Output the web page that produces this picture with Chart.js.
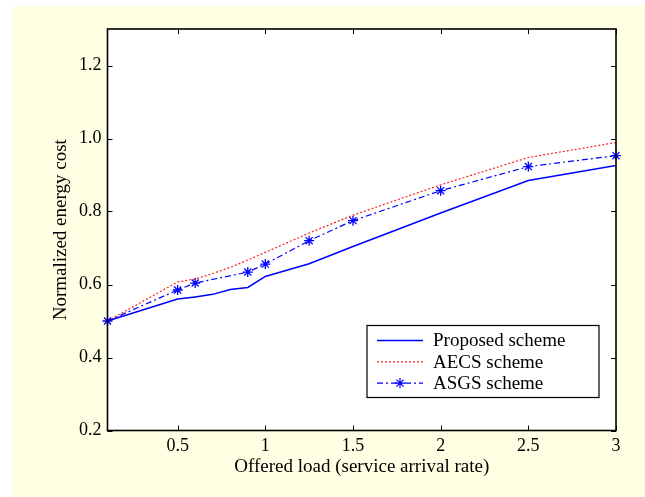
<!DOCTYPE html>
<html>
<head>
<meta charset="utf-8">
<script src="https://cdn.jsdelivr.net/npm/chart.js@4.4.1/dist/chart.umd.min.js"></script>
<style>
  html, body { margin:0; padding:0; background:#fff; }
  #bg { position:absolute; left:12px; top:6px; width:633px; height:491px; background:#ffffe3; }
  #c { position:absolute; left:0; top:0; }
</style>
</head>
<body>
<div id="bg"></div>
<canvas id="c" width="645" height="497"></canvas>
<script>
/* data */
const LOAD      = [0.1, 0.5, 0.6, 0.7, 0.8, 0.9, 1.0, 1.25, 1.5, 2.0, 2.5, 3.0];
const PROPOSED  = [0.5, 0.560, 0.566, 0.573, 0.586, 0.592, 0.622, 0.657, 0.704, 0.796, 0.885, 0.926];
const AECS      = [0.5, 0.607, 0.615, 0.630, 0.647, 0.667, 0.688, 0.741, 0.790, 0.873, 0.948, 0.989];
const ASGS_LOAD = [0.1, 0.5, 0.6, 0.9, 1.0, 1.25, 1.5, 2.0, 2.5, 3.0];
const ASGS      = [0.5, 0.585, 0.604, 0.634, 0.656, 0.720, 0.775, 0.857, 0.923, 0.953];
const X_TICKS = [0.5, 1, 1.5, 2, 2.5, 3];
const Y_TICKS = [0.2, 0.4, 0.6, 0.8, 1.0, 1.2];
const NAMES = ["Proposed scheme", "AECS scheme", "ASGS scheme"];

const FONT = "'Liberation Serif', 'Times New Roman', serif";
const FS = 18;      // tick labels
const FT = 19;      // axis titles + legend
const pts = (xs, ys) => xs.map((x, i) => ({ x, y: ys[i] }));

/* white axes box, inward ticks on all four sides, boxed legend */
const frame = {
  id: "frame",
  beforeDraw(chart){
    const { ctx, chartArea:a } = chart;
    ctx.save(); ctx.fillStyle = "#fff";
    ctx.fillRect(a.left, a.top, a.right - a.left, a.bottom - a.top);
    ctx.restore();
  },
  afterDraw(chart){
    const { ctx, chartArea:a, scales:{ x, y } } = chart;
    const TL = 5;
    ctx.save();
    ctx.strokeStyle = "#000"; ctx.lineWidth = 1;
    ctx.beginPath();
    for (const v of X_TICKS){
      const px = Math.round(x.getPixelForValue(v)) + 0.5;
      ctx.moveTo(px, a.bottom); ctx.lineTo(px, a.bottom - TL);
      ctx.moveTo(px, a.top); ctx.lineTo(px, a.top + TL);
    }
    for (const v of Y_TICKS){
      const py = Math.round(y.getPixelForValue(v)) + 0.5;
      ctx.moveTo(a.left, py); ctx.lineTo(a.left + TL, py);
      ctx.moveTo(a.right, py); ctx.lineTo(a.right - TL, py);
    }
    ctx.stroke();
    ctx.lineWidth = 1.6;
    ctx.strokeRect(a.left, a.top, a.right - a.left, a.bottom - a.top);

    // legend
    const L = a.right - 249, T = a.bottom - 105, W = 232, H = 72;
    ctx.fillStyle = "#fff"; ctx.fillRect(L, T, W, H);
    ctx.lineWidth = 1.2; ctx.strokeRect(L, T, W, H);
    ctx.font = FT + "px " + FONT; ctx.textBaseline = "middle"; ctx.fillStyle = "#000";
    chart.data.datasets.forEach((ds, i) => {
      const ry = T + 15 + i * 21.3;
      ctx.save();
      ctx.strokeStyle = ds.borderColor; ctx.lineWidth = ds.borderWidth;
      ctx.setLineDash(ds.borderDash || []);
      ctx.beginPath(); ctx.moveTo(L + 10, ry); ctx.lineTo(L + 56, ry); ctx.stroke();
      ctx.setLineDash([]);
      if (ds.pointRadius > 0){
        Chart.helpers.drawPoint(ctx, { pointStyle: ds.pointStyle, radius: ds.pointRadius, borderWidth: ds.pointBorderWidth }, L + 33, ry);
      }
      ctx.restore();
      ctx.fillText(ds.label, L + 66, ry + 1);
    });
    ctx.restore();
  }
};

new Chart(document.getElementById("c"), {
  type: "line",
  data: {
    datasets: [
      { label: NAMES[0], data: pts(LOAD, PROPOSED), borderColor: "#0000ff", borderWidth: 1.5,
        pointRadius: 0, tension: 0 },
      { label: NAMES[1], data: pts(LOAD, AECS), borderColor: "#ff2020", borderWidth: 1.2,
        borderDash: [2, 2], pointRadius: 0, tension: 0 },
      { label: NAMES[2], data: pts(ASGS_LOAD, ASGS), borderColor: "#0000ff", borderWidth: 1.2,
        borderDash: [6, 3, 2, 3], pointStyle: "star", pointRadius: 5, pointBorderWidth: 1.3,
        pointBackgroundColor: "#0000ff", pointBorderColor: "#0000ff", tension: 0, clip: false }
    ]
  },
  options: {
    responsive: false, animation: false, devicePixelRatio: 1,
    layout: { padding: { left: 0, right: 29, top: 29, bottom: 0 } },
    plugins: { legend: { display: false }, tooltip: { enabled: false } },
    scales: {
      x: {
        type: "linear", min: 0.1, max: 3,
        grid: { display: false, drawTicks: false }, border: { display: false },
        afterBuildTicks: s => { s.ticks = X_TICKS.map(v => ({ value: v })); },
        afterFit: s => { s.height = 66.5; },
        ticks: { color: "#000", padding: 5, maxRotation: 0, autoSkip: false,
                 font: { family: FONT, size: FS }, callback: v => String(v) },
        title: { display: true, text: "Offered load (service arrival rate)", color: "#000",
                 font: { family: FONT, size: FT }, padding: { top: 0, bottom: 19 } }
      },
      y: {
        type: "linear", min: 0.2, max: 1.3,
        grid: { display: false, drawTicks: false }, border: { display: false },
        afterBuildTicks: s => { s.ticks = Y_TICKS.map(v => ({ value: v })); },
        afterFit: s => { s.width = 107.5; },
        ticks: { color: "#000", padding: 6, autoSkip: false,
                 font: { family: FONT, size: FS }, callback: v => Number(v).toFixed(1) },
        title: { display: true, text: "Normalized energy cost", color: "#000",
                 font: { family: FONT, size: FT }, padding: { top: 50, bottom: 0 } }
      }
    }
  },
  plugins: [frame]
});
</script>
</body>
</html>
